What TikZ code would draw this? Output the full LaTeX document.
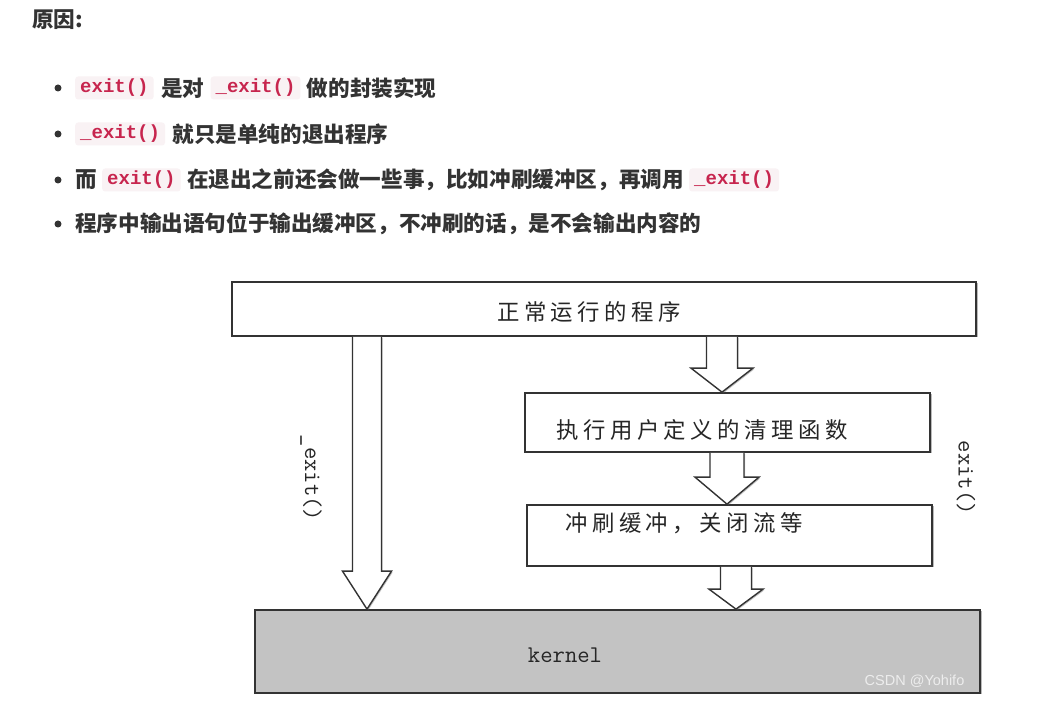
\documentclass[tikz,border=0pt]{standalone}
\usepackage{fontspec}
\setmainfont{Liberation Sans}
\newfontfamily\cjk{Noto Sans CJK SC}
\newfontfamily\cjkd[LetterSpace=20]{Noto Sans CJK SC}
\newfontfamily\mono{Liberation Mono}
\usetikzlibrary{shadows,calc}
\definecolor{txt}{HTML}{333333}
\definecolor{chipbg}{HTML}{F9F2F4}
\definecolor{chipfg}{HTML}{C7254E}
\definecolor{kern}{HTML}{C3C3C3}
\definecolor{edge}{HTML}{333333}
\definecolor{wmark}{HTML}{EDEDED}
\tikzset{
  body/.style={font=\cjk\bfseries\fontsize{21.6}{25}\selectfont, text=txt, inner sep=0pt, anchor=west},
  chip/.style={font=\mono\bfseries\fontsize{19}{23}\selectfont, text=chipfg, fill=chipbg,
    rounded corners=3pt, inner xsep=5pt, inner ysep=0pt, minimum height=23pt, anchor=west},
  bulletdot/.style={circle, fill=txt, inner sep=0pt, minimum size=7pt},
  box/.style={draw=edge, line width=1.7pt, fill=white, inner sep=0pt,
    drop shadow={shadow xshift=1.5pt, shadow yshift=-1.5pt, opacity=0.45, fill=black!60}},
  kbox/.style={box, fill=kern},
  dtext/.style={font=\cjkd\fontsize{22.4}{26}\selectfont, text=black!85, inner sep=0pt},
  mtext/.style={font=\ttfamily\fontsize{24}{28}\selectfont, text=black!85, inner sep=0pt},
  blockarrow/.style={draw=edge, line width=1.4pt, fill=white, line join=miter,
    drop shadow={shadow xshift=1.2pt, shadow yshift=-1.2pt, opacity=0.4, fill=black!60}},
}
% #1 centre x, #2 start anchor, #3 end anchor, #4 shaft half width, #5 head half width, #6 head length
\newcommand\barrow[6]{%
  \draw[blockarrow] let \p1=(#2), \p2=(#3) in
    ({#1pt-#4pt},\y1) -- ({#1pt-#4pt},{\y2+#6pt}) -- ({#1pt-#5pt},{\y2+#6pt})
    -- (#1pt,\y2) -- ({#1pt+#5pt},{\y2+#6pt}) -- ({#1pt+#4pt},{\y2+#6pt}) -- ({#1pt+#4pt},\y1);}
\begin{document}
\begin{tikzpicture}[x=1pt,y=1pt]
\useasboundingbox (0,0) rectangle (1042,712);
\fill[white] (0,0) rectangle (1042,712);

% heading
\node[body] (title) at (32,692) {原因:};

% bullets
\node[bulletdot] (b1) at (58,624) {};
\node[chip] (c11) at (75,624) {exit()};
\node[body] (t11) at ([xshift=7pt]c11.east) {是对};
\node[chip] (c12) at ([xshift=6pt]t11.east) {\_exit()};
\node[body] (t12) at ([xshift=6pt]c12.east) {做的封装实现};

\node[bulletdot] (b2) at (58,578) {};
\node[chip] (c21) at (75,578) {\_exit()};
\node[body] (t21) at ([xshift=7pt]c21.east) {就只是单纯的退出程序};

\node[bulletdot] (b3) at (58,532) {};
\node[body] (t31) at (75,532) {而};
\node[chip] (c31) at ([xshift=5pt]t31.east) {exit()};
\node[body] (t32) at ([xshift=6pt]c31.east) {在退出之前还会做一些事，比如冲刷缓冲区，再调用};
\node[chip] (c32) at ([xshift=5pt]t32.east) {\_exit()};

\node[bulletdot] (b4) at (58,488) {};
\node[body] (t41) at (75,488) {程序中输出语句位于输出缓冲区，不冲刷的话，是不会输出内容的};

% diagram boxes
\node[box, minimum width=744pt, minimum height=54pt] (top) at (604,403) {};
\node[dtext] (toptxt) at (589,400) {正常运行的程序};

\node[box, minimum width=405pt, minimum height=59pt] (clean) at (727.5,289.5) {};
\node[dtext] (cleantxt) at (702,282) {执行用户定义的清理函数};

\node[box, minimum width=405pt, minimum height=61pt] (flush) at (729.5,176.5) {};
\node[dtext] (flushtxt) at (684,189) {冲刷缓冲，关闭流等};

\node[kbox, minimum width=725pt, minimum height=83pt] (kernel) at (617.5,60.5) {};
\node[mtext] (kerneltxt) at (565,57) {kernel};
\node[font=\fontsize{14.5}{16}\selectfont, text=wmark, inner sep=0pt] (wm) at (914.5,31) {CSDN @Yohifo};

% block arrows
\barrow{367}{top.south}{kernel.north}{14.5}{24.5}{38}
\barrow{722}{top.south}{clean.north}{15.5}{31}{24}
\barrow{727}{clean.south}{flush.north}{17}{32}{27}
\barrow{736}{flush.south}{kernel.north}{15.5}{27}{20}

% side labels
\node[mtext, rotate=-90] (lexit) at (311,234) {\_exit()};
\node[mtext, rotate=-90] (rexit) at (966,234) {exit()};
\end{tikzpicture}
\end{document}
